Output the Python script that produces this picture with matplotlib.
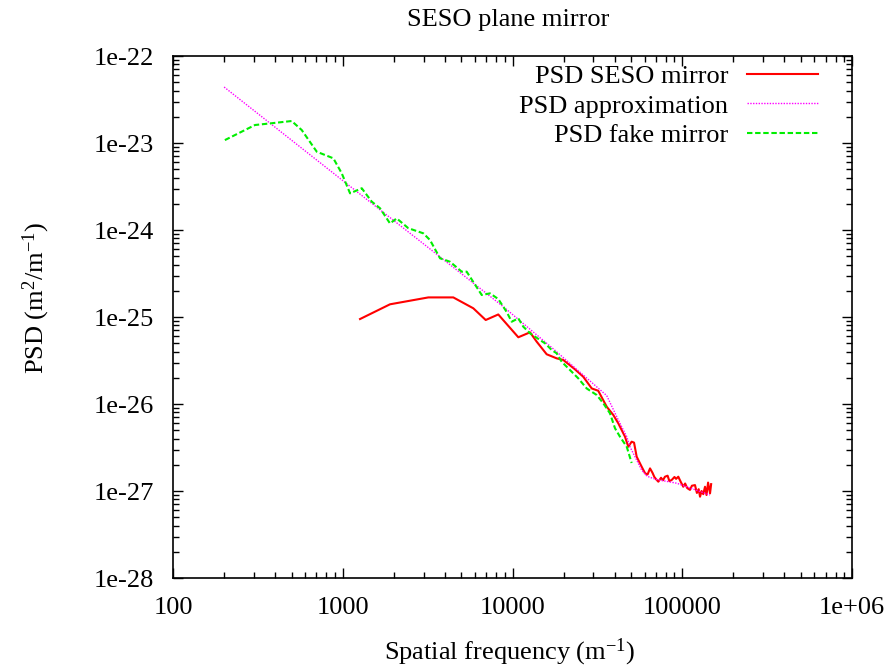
import matplotlib
matplotlib.use("Agg")
import matplotlib.pyplot as plt
from matplotlib.ticker import FixedLocator, LogLocator, NullFormatter

plt.rcParams['font.family'] = ['Liberation Serif', 'DejaVu Serif']
plt.rcParams['mathtext.fontset'] = 'custom'
plt.rcParams['mathtext.rm'] = 'Liberation Serif'
plt.rcParams['mathtext.it'] = 'Liberation Serif:italic'

seso_freq = [1264, 1898, 3192, 4480, 5875, 6953, 8245, 10820, 12680, 13890,
             15900, 18200, 19900, 23300, 26100, 29300, 32000, 35900, 39260, 42000,
             46000, 48100, 50350, 52000, 53900, 57700, 60400, 62500, 64600, 66800,
             68500, 70500, 72300, 75000, 77000, 79100, 82000, 84000, 86700, 90000,
             92000, 94800, 97500, 101400, 104000, 107000, 111100, 114000, 118900, 122000,
             125000, 127300, 130000, 133000, 136200, 139000, 142000, 145800, 148000]
seso_psd = [9.48e-26, 1.40e-25, 1.68e-25, 1.68e-25, 1.26e-25, 9.24e-26, 1.07e-25, 5.85e-26, 6.67e-26, 5.20e-26,
            3.73e-26, 3.35e-26, 3.21e-26, 2.51e-26, 2.06e-26, 1.51e-26, 1.42e-26, 9.3e-27, 7.48e-27, 6.0e-27,
            4.21e-27, 3.23e-27, 3.69e-27, 3.60e-27, 2.48e-27, 1.90e-27, 1.60e-27, 1.55e-27, 1.82e-27, 1.62e-27,
            1.45e-27, 1.35e-27, 1.28e-27, 1.42e-27, 1.33e-27, 1.46e-27, 1.50e-27, 1.30e-27, 1.34e-27, 1.45e-27,
            1.38e-27, 1.46e-27, 1.30e-27, 1.12e-27, 1.22e-27, 1.08e-27, 1.03e-27, 1.15e-27, 1.17e-27, 0.95e-27,
            1.05e-27, 0.86e-27, 1.00e-27, 0.92e-27, 1.12e-27, 0.90e-27, 1.25e-27, 0.94e-27, 1.20e-27]

# approximation curve
approx_freq = [200, 1000, 3000, 8800, 17400, 35900, 42000, 47100, 49200, 53900, 57700, 62000, 70000,
               92700, 145500]
approx_psd = [4.4e-23, 3.7e-24, 6.9e-25, 1.32e-25, 4.3e-26, 1.25e-26, 6.55e-27, 4.21e-27, 3.23e-27, 2.27e-27,
              1.74e-27, 1.48e-27, 1.36e-27, 1.23e-27, 9.0e-28]

# PSD of the fake mirror
fake_freq = [202, 304, 373, 500, 573, 703, 880, 986, 1104, 1294,
             1481, 1657, 1898, 2079, 2432, 2983, 3266, 3741, 4285, 5020,
             5371, 6588, 7368, 8245, 9247, 9891, 10820, 11580, 12680, 14520,
             15540, 17020, 18200, 19490, 21810, 24420, 27350, 31330, 34270, 37510,
             40170, 42970, 47090, 50350]
fake_psd = [1.08e-23, 1.61e-23, 1.68e-23, 1.79e-23, 1.41e-23, 7.94e-24, 6.67e-24, 4.49e-24, 2.64e-24, 3.02e-24,
            2.12e-24, 1.78e-24, 1.19e-24, 1.36e-24, 1.05e-24, 9.16e-25, 7.67e-25, 4.73e-25, 4.32e-25, 3.32e-25,
            3.32e-25, 1.79e-25, 1.87e-25, 1.61e-25, 1.14e-25, 8.83e-26, 9.66e-26, 7.74e-26, 6.50e-26, 5.44e-26,
            4.99e-26, 4.18e-26, 3.83e-26, 3.06e-26, 2.46e-26, 1.97e-26, 1.51e-26, 1.27e-26, 1.02e-26, 7.82e-27,
            5.26e-27, 4.21e-27, 3.23e-27, 2.10e-27]

x_ticks = [100, 1000, 10000, 100000, 1000000]
x_labels = ['100', '1000', '10000', '100000', '1e+06']
y_ticks = [1e-28, 1e-27, 1e-26, 1e-25, 1e-24, 1e-23, 1e-22]
y_labels = ['1e-28', '1e-27', '1e-26', '1e-25', '1e-24', '1e-23', '1e-22']

fs = 19

fig = plt.figure(figsize=(8.91, 6.66), dpi=100)
ax = fig.add_axes([0.1942, 0.1321, 0.762, 0.7838])

ax.plot(seso_freq, seso_psd, color='#ff0000', lw=1.5, label='PSD SESO mirror')
ax.plot(approx_freq, approx_psd, color='#ff00ff', lw=1.0, linestyle=(0, (1, 1)),
        label='PSD approximation')
ax.plot(fake_freq, fake_psd, color='#00ee00', lw=1.5, linestyle=(0, (2.6, 1.3)),
        label='PSD fake mirror')

ax.set_xscale('log')
ax.set_yscale('log')
ax.set_xlim(100, 1e6)
ax.set_ylim(1e-28, 1e-22)

ax.xaxis.set_major_locator(FixedLocator(x_ticks))
ax.set_xticklabels(x_labels)
ax.yaxis.set_major_locator(FixedLocator(y_ticks))
ax.set_yticklabels(y_labels)
ax.xaxis.set_minor_locator(LogLocator(base=10, subs=range(2, 10), numticks=20))
ax.yaxis.set_minor_locator(LogLocator(base=10, subs=range(2, 10), numticks=20))
ax.xaxis.set_minor_formatter(NullFormatter())
ax.yaxis.set_minor_formatter(NullFormatter())

ax.tick_params(which='both', direction='in', top=True, right=True, width=1.0, labelsize=fs)
ax.tick_params(which='major', length=7)
ax.tick_params(which='minor', length=4)
ax.tick_params(axis='y', pad=14)
ax.tick_params(axis='x', pad=14)
for sp in ax.spines.values():
    sp.set_linewidth(1.2)

fig.text(508 / 891, 1 - 20 / 666, 'SESO plane mirror', ha='center', va='center', fontsize=fs)
fig.text(510 / 891, 1 - 652 / 666, r'Spatial frequency (m$^{-1}$)', ha='center', va='center', fontsize=fs)
fig.text(36 / 891, 1 - 298 / 666, r'PSD (m$^{2}$/m$^{-1}$)', ha='center', va='center',
         rotation=90, fontsize=fs)

ax.legend(loc='upper right', bbox_to_anchor=(0.95, 0.984), frameon=False, markerfirst=False,
          fontsize=fs, handlelength=2.7, handletextpad=0.7, labelspacing=0.24,
          borderpad=0, borderaxespad=0)

fig.savefig('out.png', dpi=100)
